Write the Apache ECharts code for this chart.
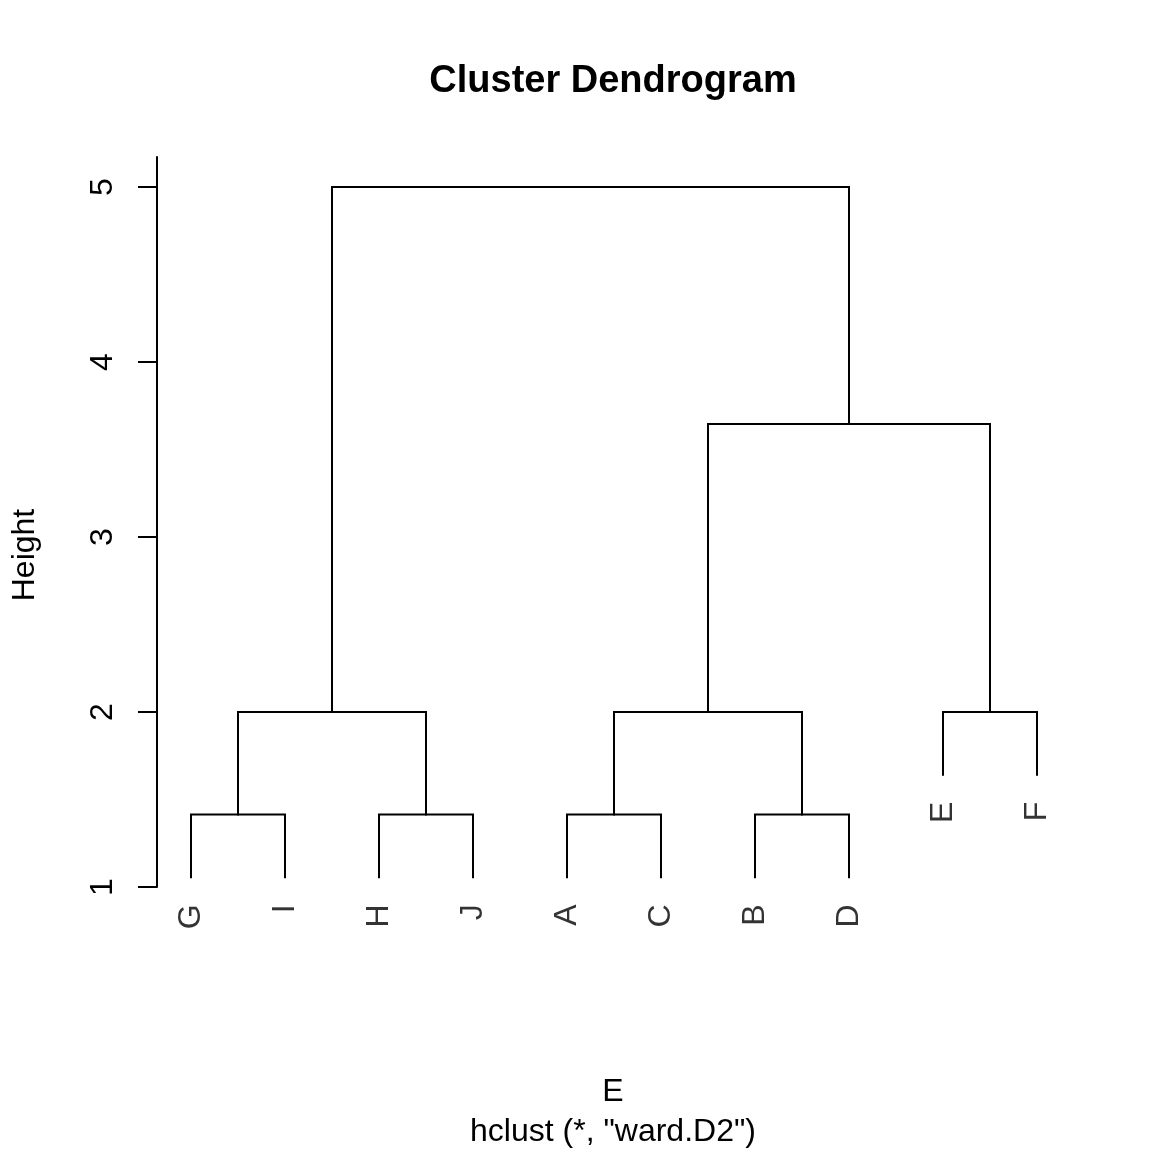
<!DOCTYPE html>
<html>
<head>
<meta charset="utf-8">
<script src="https://cdn.jsdelivr.net/npm/echarts@6/dist/echarts.min.js"></script>
<style>
html,body{margin:0;padding:0;background:#fff;}
#chart{width:1152px;height:1152px;}
</style>
</head>
<body>
<div id="chart"></div>
<script>
// hclust result (R convention: negative = leaf index into labels, positive = earlier merge step)
const labels = ['A','B','C','D','E','F','G','H','I','J'];
const merge = [[-7,-9],[-8,-10],[-1,-3],[-2,-4],[-5,-6],[1,2],[3,4],[7,5],[6,8]];
const heights = [1.414, 1.414, 1.414, 1.414, 2.0, 2.0, 2.0, 3.646, 5.0];
const order = [7,9,8,10,1,3,2,4,5,6];
const yTicks = [1,2,3,4,5];

const FONT = '"Liberation Sans", Arial, sans-serif';
const hang = 0.1 * (Math.max(...heights) - Math.min(...heights));

// leaf position along x (0-based index in plotting order)
const leafPos = {};
order.forEach((leaf, i) => { leafPos[leaf] = i; });

const nodeX = [];
const segments = [];
const leafPoints = [];
function childInfo(c, h) {
  if (c < 0) {
    const x = leafPos[-c];
    const yb = h - hang;
    leafPoints.push({ value: [x, yb], name: labels[-c - 1] });
    return { x: x, y: yb };
  }
  return { x: nodeX[c - 1], y: heights[c - 1] };
}
merge.forEach((m, i) => {
  const h = heights[i];
  const a = childInfo(m[0], h);
  const b = childInfo(m[1], h);
  nodeX[i] = (a.x + b.x) / 2;
  segments.push({ coords: [[a.x, a.y], [a.x, h], [b.x, h], [b.x, b.y]] });
});

const chart = echarts.init(document.getElementById('chart'), null, { renderer: 'canvas' });
chart.setOption({
  backgroundColor: '#ffffff',
  animation: false,
  grid: { left: 157, right: 68, top: 157, bottom: 265, containLabel: false },
  xAxis: {
    type: 'value', min: -0.3617, max: 9.5, show: false
  },
  yAxis: {
    type: 'value', min: 1, max: 5.1714,
    axisLine: { show: true, onZero: false, lineStyle: { color: '#000', width: 2 } },
    axisTick: { show: true, length: 19, lineStyle: { color: '#000', width: 2 }, customValues: yTicks },
    axisLabel: { show: true, rotate: 90, margin: 38, color: '#000', fontSize: 32, fontFamily: FONT, customValues: yTicks },
    splitLine: { show: false }
  },
  series: [
    {
      type: 'lines', coordinateSystem: 'cartesian2d', polyline: true,
      silent: true,
      lineStyle: { color: '#000', width: 2, opacity: 1, cap: 'square' },
      data: segments,
      clip: false
    },
    {
      type: 'scatter', symbolSize: 0, silent: true, clip: false,
      data: leafPoints,
      label: {
        show: true, position: 'bottom', distance: 27,
        rotate: 90, align: 'right', verticalAlign: 'middle',
        formatter: p => p.name,
        color: '#000', fontSize: 32, fontFamily: FONT
      }
    }
  ],
  graphic: [
    { type: 'text', x: 613, y: 82, style: { text: 'Cluster Dendrogram', fill: '#000', font: 'bold 38px ' + FONT, textAlign: 'center', textVerticalAlign: 'middle' } },
    { type: 'text', x: 613, y: 1092, style: { text: 'E', fill: '#000', font: '32px ' + FONT, textAlign: 'center', textVerticalAlign: 'middle' } },
    { type: 'text', x: 613, y: 1132, style: { text: 'hclust (*, "ward.D2")', fill: '#000', font: '32px ' + FONT, textAlign: 'center', textVerticalAlign: 'middle' } },
    { type: 'text', x: 25, y: 555, rotation: Math.PI / 2, style: { text: 'Height', fill: '#000', font: '32px ' + FONT, textAlign: 'center', textVerticalAlign: 'middle' } }
  ]
});
</script>
</body>
</html>
